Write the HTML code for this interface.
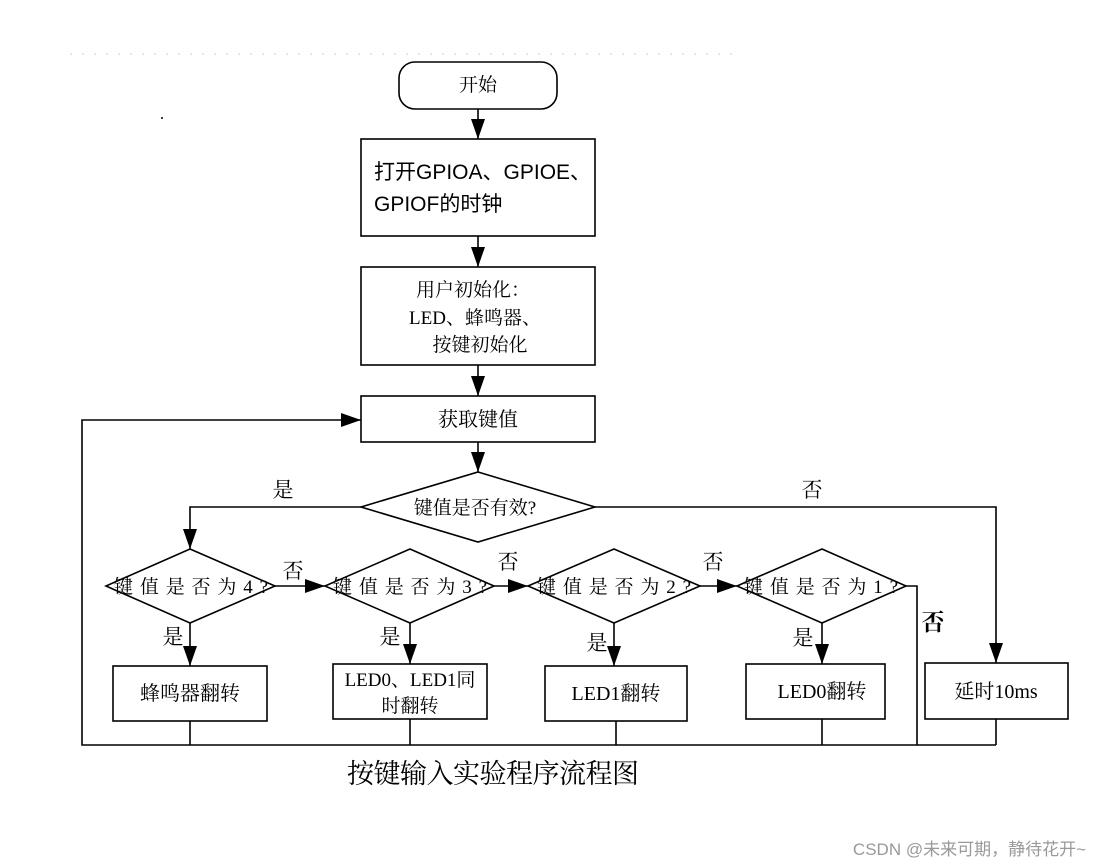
<!DOCTYPE html>
<html><head><meta charset="utf-8"><style>
html,body{margin:0;padding:0;background:#fff;}
svg{display:block}
.s{font-family:"Liberation Serif","Noto Serif CJK SC",serif;fill:#000}
.a{font-family:"Liberation Sans","Noto Sans CJK SC",sans-serif;fill:#000}
</style></head><body>
<svg width="1101" height="867" viewBox="0 0 1101 867" xmlns="http://www.w3.org/2000/svg">
<defs><marker id="ar" markerWidth="20" markerHeight="14" refX="20" refY="7" orient="auto" markerUnits="userSpaceOnUse"><path d="M0,0 L20,7 L0,14 Z" fill="#000"/></marker></defs>
<line x1="70" y1="54" x2="740" y2="54" stroke="#ccc" stroke-width="1" stroke-dasharray="2,10"/>
<g stroke="#000" stroke-width="1.6" fill="none">
<rect x="399" y="62" width="158" height="47" rx="16"/>
<line x1="478" y1="109" x2="478" y2="139" marker-end="url(#ar)"/>
<rect x="361" y="139" width="234" height="97"/>
<line x1="478" y1="236" x2="478" y2="267" marker-end="url(#ar)"/>
<rect x="361" y="267" width="234" height="98"/>
<line x1="478" y1="365" x2="478" y2="396" marker-end="url(#ar)"/>
<rect x="361" y="396" width="234" height="46"/>
<line x1="478" y1="442" x2="478" y2="472" marker-end="url(#ar)"/>
<polygon points="478,472 595,507 478,542 361,507"/>
<polyline points="361,507 190,507 190,549" marker-end="url(#ar)"/>
<polyline points="595,507 996,507 996,663" marker-end="url(#ar)"/>
<polygon points="190,549 275,586 190,623 106,586"/>
<polygon points="410,549 494,586 410,623 325,586"/>
<polygon points="614,549 700,586 614,623 528,586"/>
<polygon points="822,549 906,586 822,623 737,586"/>
<line x1="275" y1="586" x2="325" y2="586" marker-end="url(#ar)"/>
<line x1="494" y1="586" x2="528" y2="586" marker-end="url(#ar)"/>
<line x1="700" y1="586" x2="737" y2="586" marker-end="url(#ar)"/>
<polyline points="906,586 917,586 917,745"/>
<line x1="190" y1="623" x2="190" y2="666" marker-end="url(#ar)"/>
<line x1="410" y1="623" x2="410" y2="664" marker-end="url(#ar)"/>
<line x1="614" y1="623" x2="614" y2="666" marker-end="url(#ar)"/>
<line x1="822" y1="623" x2="822" y2="664" marker-end="url(#ar)"/>
<rect x="113" y="666" width="154" height="55"/>
<rect x="333" y="664" width="154" height="55"/>
<rect x="545" y="666" width="142" height="55"/>
<rect x="746" y="664" width="139" height="55"/>
<rect x="925" y="663" width="143" height="56"/>
<line x1="190" y1="721" x2="190" y2="745"/>
<line x1="410" y1="719" x2="410" y2="745"/>
<line x1="616" y1="721" x2="616" y2="745"/>
<line x1="822" y1="719" x2="822" y2="745"/>
<line x1="996" y1="719" x2="996" y2="745"/>
<polyline points="996,745 82,745 82,420 361,420" marker-end="url(#ar)"/>
</g>
<text class="s" x="478" y="91" font-size="19" text-anchor="middle">开始</text>
<text class="a" x="374" y="179" font-size="21">打开GPIOA、GPIOE、</text>
<text class="a" x="374" y="211" font-size="21">GPIOF的时钟</text>
<text class="s" x="473" y="296" font-size="19" text-anchor="middle">用户初始化：</text>
<text class="s" x="475" y="324" font-size="19" text-anchor="middle">LED、蜂鸣器、</text>
<text class="s" x="480" y="351" font-size="19" text-anchor="middle">按键初始化</text>
<text class="s" x="478" y="426" font-size="20" text-anchor="middle">获取键值</text>
<text class="s" x="475" y="514" font-size="19" text-anchor="middle">键值是否有效?</text>
<text class="s" x="191" y="593" font-size="19" text-anchor="middle" textLength="154">键值是否为4?</text>
<text class="s" x="410" y="593" font-size="19" text-anchor="middle" textLength="154">键值是否为3?</text>
<text class="s" x="614" y="593" font-size="19" text-anchor="middle" textLength="154">键值是否为2?</text>
<text class="s" x="821" y="593" font-size="19" text-anchor="middle" textLength="154">键值是否为1?</text>
<text class="s" x="283" y="497" font-size="21" text-anchor="middle">是</text>
<text class="s" x="812" y="497" font-size="21" text-anchor="middle">否</text>
<text class="s" x="293" y="578" font-size="21" text-anchor="middle">否</text>
<text class="s" x="508" y="569" font-size="21" text-anchor="middle">否</text>
<text class="s" x="713" y="569" font-size="21" text-anchor="middle">否</text>
<text class="s" x="933" y="630" font-size="23" font-weight="bold" text-anchor="middle">否</text>
<text class="s" x="173" y="644" font-size="21" text-anchor="middle">是</text>
<text class="s" x="390" y="644" font-size="21" text-anchor="middle">是</text>
<text class="s" x="597" y="650" font-size="21" text-anchor="middle">是</text>
<text class="s" x="803" y="645" font-size="21" text-anchor="middle">是</text>
<text class="s" x="190" y="700" font-size="20" text-anchor="middle">蜂鸣器翻转</text>
<text class="s" x="410" y="686" font-size="19" text-anchor="middle">LED0、LED1同</text>
<text class="s" x="410" y="712" font-size="19" text-anchor="middle">时翻转</text>
<text class="s" x="616" y="700" font-size="20" text-anchor="middle">LED1翻转</text>
<text class="s" x="822" y="698" font-size="20" text-anchor="middle">LED0翻转</text>
<text class="s" x="996" y="698" font-size="20" text-anchor="middle">延时10ms</text>
<text class="s" x="493" y="783" font-size="27" text-anchor="middle" textLength="292">按键输入实验程序流程图</text>
<text class="a" x="1086" y="855" font-size="17" text-anchor="end" style="fill:#999">CSDN @未来可期，静待花开~</text>
<circle cx="162" cy="118" r="1" fill="#000"/>
</svg>
</body></html>
